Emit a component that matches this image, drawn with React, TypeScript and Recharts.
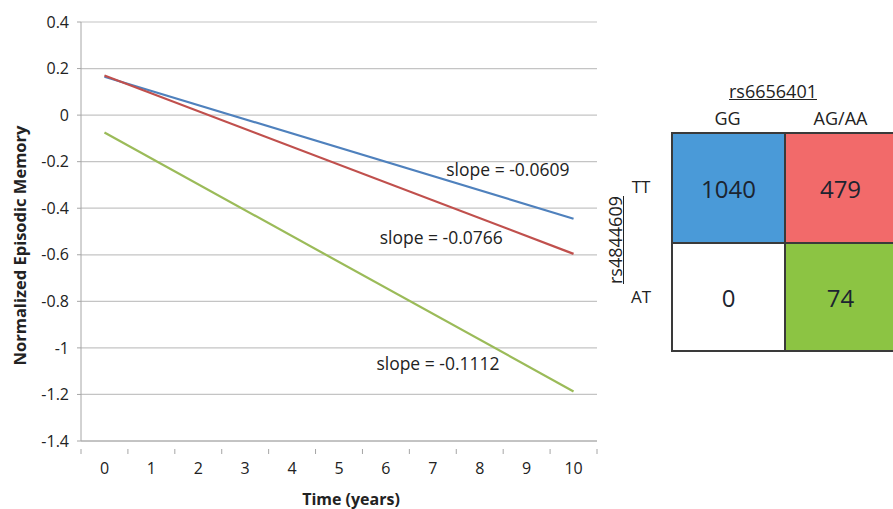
import React from 'react';
import { LineChart, Line, XAxis, YAxis, CartesianGrid, ReferenceDot } from 'recharts';

// ---- Line chart data ----
const years = [0, 1, 2, 3, 4, 5, 6, 7, 8, 9, 10];
const timePoints = [0, 10];
const ggTT = [0.165, -0.445]; // slope = -0.0609
const agTT = [0.17, -0.596]; // slope = -0.0766
const agAT = [-0.075, -1.187]; // slope = -0.1112
const yTicks = [-1.4, -1.2, -1, -0.8, -0.6, -0.4, -0.2, 0, 0.2, 0.4];

const slopeLabels = [
  { text: 'slope = -0.0609', t: 8.6, v: -0.236 },
  { text: 'slope = -0.0766', t: 7.18, v: -0.528 },
  { text: 'slope = -0.1112', t: 7.11, v: -1.069 },
];

// ---- Table data ----
const colHeader = 'rs6656401';
const rowHeader = 'rs4844609';
const colGenotypes = ['GG', 'AG/AA'];
const rowGenotypes = ['TT', 'AT'];
const counts = [
  [1040, 479],
  [0, 74],
];
const cellColors = [
  ['#4a9ad8', '#f26a6a'],
  ['#ffffff', '#8cc443'],
];

const lineData = timePoints.map((t, i) => ({ t, ggTT: ggTT[i], agTT: agTT[i], agAT: agAT[i] }));
const xTicks = [...years.flatMap((y) => [y - 0.5, y]), years[years.length - 1] + 0.5];

const FONT = '"Open Sans", sans-serif';

const XTick = (props: any) => {
  const { x, y, payload } = props;
  const v = payload.value;
  if (Number.isInteger(v)) {
    return (
      <text x={x} y={y} dy={25} textAnchor="middle" fontFamily={FONT} fontSize={16} fill="#222">
        {v}
      </text>
    );
  }
  return <line x1={x} x2={x} y1={y} y2={y + 5} stroke="#a6a6a6" strokeWidth={1} />;
};

export default function App() {
  return (
    <div style={{ position: 'absolute', left: 0, top: 0, width: 893, height: 509, overflow: 'hidden', background: '#fff' }}>
      <LineChart width={610} height={509} data={lineData} margin={{ top: 22, right: 13, bottom: 0, left: 0 }}>
        <CartesianGrid horizontal vertical={false} stroke="#c4c4c4" strokeWidth={1.2} />
        <XAxis
          dataKey="t"
          type="number"
          domain={[-0.5, 10.5]}
          ticks={xTicks}
          interval={0}
          tick={<XTick />}
          tickLine={false}
          axisLine={{ stroke: '#a6a6a6' }}
          height={68}
          label={{
            content: ({ viewBox }: any) => (
              <text
                x={viewBox.x + viewBox.width / 2 + 12}
                y={viewBox.y + viewBox.height - 4}
                textAnchor="middle"
                fontFamily={FONT}
                fontWeight="bold"
                fontSize={16}
                fill="#222"
              >
                Time (years)
              </text>
            ),
          }}
        />
        <YAxis
          type="number"
          domain={[-1.4, 0.4]}
          ticks={yTicks}
          interval={0}
          width={81}
          tickSize={4}
          tickMargin={8}
          tickLine={{ stroke: '#a6a6a6' }}
          axisLine={{ stroke: '#a6a6a6' }}
          tick={{ fontFamily: FONT, fontSize: 16, fill: '#222' }}
          tickFormatter={(v: number) => String(v)}
          label={{
            content: ({ viewBox }: any) => {
              const cx = 19;
              const cy = viewBox.y + viewBox.height / 2 + 14;
              return (
                <text
                  x={cx}
                  y={cy}
                  transform={`rotate(-90 ${cx} ${cy})`}
                  textAnchor="middle"
                  dominantBaseline="central"
                  fontFamily={FONT}
                  fontWeight="bold"
                  fontSize={16.5}
                  fill="#222"
                >
                  Normalized Episodic Memory
                </text>
              );
            },
          }}
        />
        <Line dataKey="ggTT" stroke="#4f81bd" strokeWidth={2.2} dot={false} isAnimationActive={false} />
        <Line dataKey="agTT" stroke="#c0504d" strokeWidth={2.2} dot={false} isAnimationActive={false} />
        <Line dataKey="agAT" stroke="#9bbb59" strokeWidth={2.2} dot={false} isAnimationActive={false} />
        {slopeLabels.map((s) => (
          <ReferenceDot
            key={s.text}
            x={s.t}
            y={s.v}
            r={0}
            fill="none"
            stroke="none"
            label={{ value: s.text, position: 'center', fontFamily: FONT, fontSize: 17.5, fill: '#222' }}
          />
        ))}
      </LineChart>

      {/* Genotype count table */}
      <div style={{ position: 'absolute', left: 0, top: 0, width: 893, height: 509, fontFamily: FONT, color: '#222' }}>
        <div
          style={{
            position: 'absolute',
            left: 673,
            width: 200,
            top: 80,
            textAlign: 'center',
            fontSize: 18,
            textDecoration: 'underline',
            lineHeight: '22px',
          }}
        >
          {colHeader}
        </div>
        {colGenotypes.map((g, j) => (
          <div
            key={g}
            style={{
              position: 'absolute',
              left: 671 + j * 113,
              width: 113,
              top: 106,
              textAlign: 'center',
              fontSize: 18,
              lineHeight: '24px',
            }}
          >
            {g}
          </div>
        ))}
        <div
          style={{
            position: 'absolute',
            left: 615 - 100,
            top: 240 - 12,
            width: 200,
            height: 24,
            lineHeight: '24px',
            textAlign: 'center',
            fontSize: 18,
            textDecoration: 'underline',
            transform: 'rotate(-90deg)',
          }}
        >
          {rowHeader}
        </div>
        {rowGenotypes.map((g, i) => (
          <div
            key={g}
            style={{
              position: 'absolute',
              left: 626,
              width: 30,
              top: 132 + i * 110 + 43,
              textAlign: 'center',
              fontSize: 17,
              lineHeight: '24px',
            }}
          >
            {g}
          </div>
        ))}
        {counts.map((row, i) =>
          row.map((c, j) => (
            <div
              key={`${i}-${j}`}
              style={{
                position: 'absolute',
                left: 671 + j * 113,
                top: 132 + i * 110,
                width: 113,
                height: 110,
                boxSizing: 'border-box',
                background: cellColors[i][j],
                borderLeft: '2px solid #3a3a3a',
                borderTop: '2px solid #3a3a3a',
                borderRight: j === 1 ? '2px solid #3a3a3a' : 'none',
                borderBottom: i === 1 ? '2px solid #3a3a3a' : 'none',
                display: 'flex',
                alignItems: 'center',
                justifyContent: 'center',
                fontSize: 24,
                color: '#1c2430',
              }}
            >
              {c}
            </div>
          ))
        )}
      </div>
    </div>
  );
}
